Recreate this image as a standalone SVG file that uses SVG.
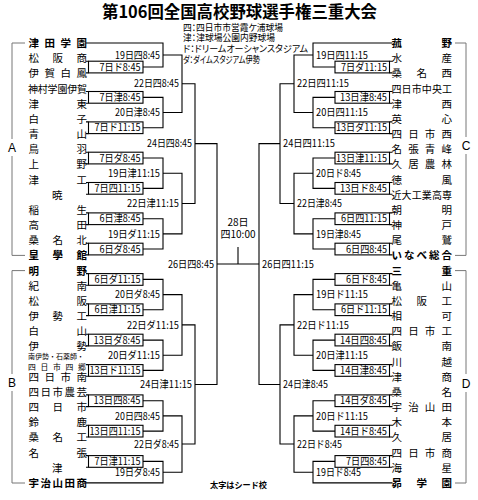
<svg xmlns="http://www.w3.org/2000/svg" width="478" height="500" viewBox="0 0 478 500">
<style>
text{font-family:"Noto Sans CJK JP","Liberation Sans",sans-serif;fill:#000}
.n{font-size:10.5px}
.n6{font-size:10px}
.sm{font-size:6.8px}
.sm2{font-size:7.8px}
.s{font-weight:bold}
.m{font-size:10.5px}
.bxl{font-size:10px}
.e{text-anchor:end}
.c{text-anchor:middle}
.ln{stroke:#000;stroke-width:1.1;fill:none}
.bx{stroke:#000;stroke-width:1.1;fill:#fff}
.gr{stroke:#777;stroke-width:1;fill:none}
.lg{font-size:9.6px;font-feature-settings:"palt"}
.blk{font-family:"Liberation Sans",sans-serif;font-size:12px}
</style>
<rect width="478" height="500" fill="#fff"/>
<g id="title">
<text class="c s" x="239.5" y="18" font-size="16.5" textLength="275" lengthAdjust="spacingAndGlyphs">第106回全国高校野球選手権三重大会</text>
</g>
<g id="legend">
<text class="lg" x="183" y="30.5" textLength="100" lengthAdjust="spacingAndGlyphs">四：四日市市営霞ケ浦球場</text>
<text class="lg" x="183" y="41.3" textLength="92" lengthAdjust="spacingAndGlyphs">津：津球場公園内野球場</text>
<text class="lg" x="183" y="52.3" textLength="125" lengthAdjust="spacingAndGlyphs">ド：ドリームオーシャンスタジアム</text>
<text class="lg" x="183" y="63.3" textLength="77" lengthAdjust="spacingAndGlyphs">ダ：ダイムスタジアム伊勢</text>
</g>
<g id="connectors">
<path class="gr" d="M25 43H12V139M12 156V255.4H25M25 270.6H12V374M12 391V483H25M455 43H466V137M466 154V255.4H455M455 270.6H466V374M466 392V483H455"/>
<path class="ln" d="M86 61.2H88.5M86 72.9H88.5M86 91.5H88.5M86 103.2H88.5M86 121.9H88.5M86 133.6H88.5M86 152.2H88.5M86 163.9H88.5M86 182.5H88.5M86 194.2H88.5M86 212.9H88.5M86 224.6H88.5M86 243.2H88.5M86 254.9H88.5M86 273.6H88.5M86 285.3H88.5M86 303.9H88.5M86 315.6H88.5M86 334.2H88.5M86 345.9H88.5M86 364.6H88.5M86 376.3H88.5M86 394.9H88.5M86 406.6H88.5M86 425.3H88.5M86 437H88.5M86 455.6H88.5M86 467.3H88.5
M86 43H163V67H143M143 97.4H163V127.7H143M143 158H163V188.4H143M143 218.7H163V249H143M143 279.4H163V309.7H143M143 340.1H163V370.4H143M143 400.8H163V431.1H143M143 461.4H163V482.9H86
M163 55H182V112.5H163M163 173.2H182V233.9H163M163 294.6H182V355.3H163M163 415.9H182V472.2H163
M182 83.8H195V203.5H182M182 324.9H195V444H182
M195 143.6H217V384.5H195
M217 264H259M238 247V264
M389.5 61.2H392.5M389.5 72.9H392.5M389.5 91.5H392.5M389.5 103.2H392.5M389.5 121.9H392.5M389.5 133.6H392.5M389.5 152.2H392.5M389.5 163.9H392.5M389.5 182.5H392.5M389.5 194.2H392.5M389.5 212.9H392.5M389.5 224.6H392.5M389.5 243.2H392.5M389.5 254.9H392.5M389.5 273.6H392.5M389.5 285.3H392.5M389.5 303.9H392.5M389.5 315.6H392.5M389.5 334.2H392.5M389.5 345.9H392.5M389.5 364.6H392.5M389.5 376.3H392.5M389.5 394.9H392.5M389.5 406.6H392.5M389.5 425.3H392.5M389.5 437H392.5M389.5 455.6H392.5M389.5 467.3H392.5
M392.5 43H313V67H335M335 97.4H313V127.7H335M335 158H313V188.4H335M335 218.7H313V249H335M335 279.4H313V309.7H335M335 340.1H313V370.4H335M335 400.8H313V431.1H335M335 461.4H313V482.9H392.5
M313 55H294V112.5H313M313 173.2H294V233.9H313M313 294.6H294V355.3H313M313 415.9H294V472.2H313
M294 83.8H280V203.5H294M294 324.9H280V444H294
M280 143.6H259V384.5H280"/>
</g>
<g id="blocks">
<text class="blk c" x="12" y="151.5">A</text>
<text class="blk c" x="12" y="386.5">B</text>
<text class="blk c" x="466" y="149.5">C</text>
<text class="blk c" x="466" y="387.5">D</text>
</g>
<g id="teams-left">
<g id="t-tsudagakuen"><text class="n s" x="28.5 44.5 60.5 76.5" y="47">津田学園</text></g>
<g id="t-matsusakasho"><text class="n" x="28.5 52.5 76.5" y="62.2">松阪商</text></g>
<g id="t-igahakuho"><text class="n" x="28.5 44.5 60.5 76.5" y="77.3">伊賀白鳳</text></g>
<g id="t-kamimura"><text class="n6" x="28 37.8 47.6 57.4 67.2 77" y="92.5">神村学園伊賀</text></g>
<g id="t-tsuhigashi"><text class="n" x="28.5 76.5" y="107.7">津東</text></g>
<g id="t-shiroko"><text class="n" x="28.5 76.5" y="122.9">白子</text></g>
<g id="t-aoyama"><text class="n" x="28.5 76.5" y="138">青山</text></g>
<g id="t-toba"><text class="n" x="28.5 76.5" y="153.2">鳥羽</text></g>
<g id="t-ueno"><text class="n" x="28.5 76.5" y="168.4">上野</text></g>
<g id="t-tsuko"><text class="n" x="28.5 76.5" y="183.5">津工</text></g>
<g id="t-akatsuki"><text class="n" x="52" y="198.7">暁</text></g>
<g id="t-inabe"><text class="n" x="28.5 76.5" y="213.9">稲生</text></g>
<g id="t-takada"><text class="n" x="28.5 76.5" y="229">高田</text></g>
<g id="t-kuwanakita"><text class="n" x="28.5 52.5 76.5" y="244.2">桑名北</text></g>
<g id="t-kogakkan"><text class="n s" x="28.5 52.5 76.5" y="259.4">皇學館</text></g>
<g id="t-meino"><text class="n s" x="28.5 76.5" y="274.6">明野</text></g>
<g id="t-kinan"><text class="n" x="28.5 76.5" y="289.7">紀南</text></g>
<g id="t-matsusaka"><text class="n" x="28.5 76.5" y="304.9">松阪</text></g>
<g id="t-iseko"><text class="n" x="28.5 52.5 76.5" y="320.1">伊勢工</text></g>
<g id="t-hakusan"><text class="n" x="28.5 76.5" y="335.2">白山</text></g>
<g id="t-ise"><text class="n" x="28.5 76.5" y="350.4">伊勢</text></g>
<g id="t-rengo"><text class="sm" x="28" y="359.4" textLength="56" lengthAdjust="spacingAndGlyphs">南伊勢・石薬師・</text><text class="sm2" x="28 40.5 53 65.5 78" y="369.6">四日市四郷</text></g>
<g id="t-yokkaichiminami"><text class="n" x="28.5 44.5 60.5 76.5" y="380.7">四日市南</text></g>
<g id="t-yokkaichinogei"><text class="n" x="28.5 40.5 52.5 64.5 76.5" y="395.9">四日市農芸</text></g>
<g id="t-yokkaichi"><text class="n" x="28.5 52.5 76.5" y="411.1">四日市</text></g>
<g id="t-suzuka"><text class="n" x="28.5 76.5" y="426.3">鈴鹿</text></g>
<g id="t-kuwanako"><text class="n" x="28.5 52.5 76.5" y="441.4">桑名工</text></g>
<g id="t-nabari"><text class="n" x="28.5 76.5" y="456.6">名張</text></g>
<g id="t-tsu"><text class="n" x="52" y="471.8">津</text></g>
<g id="t-ujiyamadasho"><text class="n s" x="28.5 40.5 52.5 64.5 76.5" y="486.9">宇治山田商</text></g>
</g>
<g id="teams-right">
<g id="t-komono"><text class="n s" x="391.5 441.5" y="47">菰野</text></g>
<g id="t-suisan"><text class="n" x="391.5 441.5" y="62.2">水産</text></g>
<g id="t-kuwananishi"><text class="n" x="391.5 416.5 441.5" y="77.3">桑名西</text></g>
<g id="t-yokkaichichuoko"><text class="n6" x="391.5 401.6 411.7 421.8 431.9 442" y="92.5">四日市中央工</text></g>
<g id="t-tsunishi"><text class="n" x="391.5 441.5" y="107.7">津西</text></g>
<g id="t-eishin"><text class="n" x="391.5 441.5" y="122.9">英心</text></g>
<g id="t-yokkaichinishi"><text class="n" x="391.5 408.2 424.8 441.5" y="138">四日市西</text></g>
<g id="t-nabariseiho"><text class="n" x="391.5 408.2 424.8 441.5" y="153.2">名張青峰</text></g>
<g id="t-hisainorin"><text class="n" x="391.5 408.2 424.8 441.5" y="168.4">久居農林</text></g>
<g id="t-tokufu"><text class="n" x="391.5 441.5" y="183.5">徳風</text></g>
<g id="t-kindai"><text class="n6" x="391.5 401.6 411.7 421.8 431.9 442" y="198.7">近大工業高専</text></g>
<g id="t-asake"><text class="n" x="391.5 441.5" y="213.9">朝明</text></g>
<g id="t-kanbe"><text class="n" x="391.5 441.5" y="229">神戸</text></g>
<g id="t-owase"><text class="n" x="391.5 441.5" y="244.2">尾鷲</text></g>
<g id="t-inabesogo"><text class="n s" x="391.5 404 416.5 429 441.5" y="259.4">いなべ総合</text></g>
<g id="t-mie"><text class="n s" x="391.5 441.5" y="274.6">三重</text></g>
<g id="t-kameyama"><text class="n" x="391.5 441.5" y="289.7">亀山</text></g>
<g id="t-matsusakako"><text class="n" x="391.5 416.5 441.5" y="304.9">松阪工</text></g>
<g id="t-ouka"><text class="n" x="391.5 441.5" y="320.1">相可</text></g>
<g id="t-yokkaichiko"><text class="n" x="391.5 408.2 424.8 441.5" y="335.2">四日市工</text></g>
<g id="t-iinan"><text class="n" x="391.5 441.5" y="350.4">飯南</text></g>
<g id="t-kawagoe"><text class="n" x="391.5 441.5" y="365.6">川越</text></g>
<g id="t-tsusho"><text class="n" x="391.5 441.5" y="380.7">津商</text></g>
<g id="t-kuwana"><text class="n" x="391.5 441.5" y="395.9">桑名</text></g>
<g id="t-ujiyamada"><text class="n" x="391.5 408.2 424.8 441.5" y="411.1">宇治山田</text></g>
<g id="t-kimoto"><text class="n" x="391.5 441.5" y="426.3">木本</text></g>
<g id="t-hisai"><text class="n" x="391.5 441.5" y="441.4">久居</text></g>
<g id="t-yokkaichisho"><text class="n" x="391.5 408.2 424.8 441.5" y="456.6">四日市商</text></g>
<g id="t-kaisei"><text class="n" x="391.5 441.5" y="471.8">海星</text></g>
<g id="t-subaru"><text class="n s" x="391.5 416.5 441.5" y="486.9">昴学園</text></g>
</g>
<g id="matches-r1-left">
<g id="m-l1"><rect class="bx" x="88.5" y="61.2" width="54.5" height="11.7"/><text class="bxl e" x="140.5" y="70.6" textLength="41" lengthAdjust="spacingAndGlyphs">7日ド8:45</text></g>
<g id="m-l3"><rect class="bx" x="88.5" y="91.5" width="54.5" height="11.7"/><text class="bxl e" x="140.5" y="101" textLength="41" lengthAdjust="spacingAndGlyphs">7日津8:45</text></g>
<g id="m-l5"><rect class="bx" x="88.5" y="121.9" width="54.5" height="11.7"/><text class="bxl e" x="140.5" y="131.3" textLength="46" lengthAdjust="spacingAndGlyphs">7日ド11:15</text></g>
<g id="m-l7"><rect class="bx" x="88.5" y="152.2" width="54.5" height="11.7"/><text class="bxl e" x="140.5" y="161.6" textLength="41" lengthAdjust="spacingAndGlyphs">7日ダ8:45</text></g>
<g id="m-l9"><rect class="bx" x="88.5" y="182.5" width="54.5" height="11.7"/><text class="bxl e" x="140.5" y="192" textLength="46" lengthAdjust="spacingAndGlyphs">7日四11:15</text></g>
<g id="m-l11"><rect class="bx" x="88.5" y="212.9" width="54.5" height="11.7"/><text class="bxl e" x="140.5" y="222.3" textLength="41" lengthAdjust="spacingAndGlyphs">6日津8:45</text></g>
<g id="m-l13"><rect class="bx" x="88.5" y="243.2" width="54.5" height="11.7"/><text class="bxl e" x="140.5" y="252.7" textLength="41" lengthAdjust="spacingAndGlyphs">6日ダ8:45</text></g>
<g id="m-l15"><rect class="bx" x="88.5" y="273.6" width="54.5" height="11.7"/><text class="bxl e" x="140.5" y="283" textLength="46" lengthAdjust="spacingAndGlyphs">6日ダ11:15</text></g>
<g id="m-l17"><rect class="bx" x="88.5" y="303.9" width="54.5" height="11.7"/><text class="bxl e" x="140.5" y="313.3" textLength="46" lengthAdjust="spacingAndGlyphs">6日津11:15</text></g>
<g id="m-l19"><rect class="bx" x="88.5" y="334.2" width="54.5" height="11.7"/><text class="bxl e" x="140.5" y="343.7" textLength="47" lengthAdjust="spacingAndGlyphs">13日ダ8:45</text></g>
<g id="m-l21"><rect class="bx" x="88.5" y="364.6" width="54.5" height="11.7"/><text class="bxl e" x="140.5" y="374" textLength="51" lengthAdjust="spacingAndGlyphs">13日ド11:15</text></g>
<g id="m-l23"><rect class="bx" x="88.5" y="394.9" width="54.5" height="11.7"/><text class="bxl e" x="140.5" y="404.4" textLength="47" lengthAdjust="spacingAndGlyphs">13日四8:45</text></g>
<g id="m-l25"><rect class="bx" x="88.5" y="425.3" width="54.5" height="11.7"/><text class="bxl e" x="140.5" y="434.7" textLength="51" lengthAdjust="spacingAndGlyphs">13日四11:15</text></g>
<g id="m-l27"><rect class="bx" x="88.5" y="455.6" width="54.5" height="11.7"/><text class="bxl e" x="140.5" y="465" textLength="46" lengthAdjust="spacingAndGlyphs">7日津11:15</text></g>
</g>
<g id="matches-r1-right">
<g id="m-r1"><rect class="bx" x="335" y="61.2" width="54.5" height="11.7"/><text class="bxl e" x="387" y="70.6" textLength="46" lengthAdjust="spacingAndGlyphs">7日ダ11:15</text></g>
<g id="m-r3"><rect class="bx" x="335" y="91.5" width="54.5" height="11.7"/><text class="bxl e" x="387" y="101" textLength="47" lengthAdjust="spacingAndGlyphs">13日津8:45</text></g>
<g id="m-r5"><rect class="bx" x="335" y="121.9" width="54.5" height="11.7"/><text class="bxl e" x="387" y="131.3" textLength="51" lengthAdjust="spacingAndGlyphs">13日ダ11:15</text></g>
<g id="m-r7"><rect class="bx" x="335" y="152.2" width="54.5" height="11.7"/><text class="bxl e" x="387" y="161.6" textLength="51" lengthAdjust="spacingAndGlyphs">13日津11:15</text></g>
<g id="m-r9"><rect class="bx" x="335" y="182.5" width="54.5" height="11.7"/><text class="bxl e" x="387" y="192" textLength="47" lengthAdjust="spacingAndGlyphs">13日ド8:45</text></g>
<g id="m-r11"><rect class="bx" x="335" y="212.9" width="54.5" height="11.7"/><text class="bxl e" x="387" y="222.3" textLength="46" lengthAdjust="spacingAndGlyphs">6日四11:15</text></g>
<g id="m-r13"><rect class="bx" x="335" y="243.2" width="54.5" height="11.7"/><text class="bxl e" x="387" y="252.7" textLength="41" lengthAdjust="spacingAndGlyphs">6日四8:45</text></g>
<g id="m-r15"><rect class="bx" x="335" y="273.6" width="54.5" height="11.7"/><text class="bxl e" x="387" y="283" textLength="41" lengthAdjust="spacingAndGlyphs">6日ド8:45</text></g>
<g id="m-r17"><rect class="bx" x="335" y="303.9" width="54.5" height="11.7"/><text class="bxl e" x="387" y="313.3" textLength="46" lengthAdjust="spacingAndGlyphs">6日ド11:15</text></g>
<g id="m-r19"><rect class="bx" x="335" y="334.2" width="54.5" height="11.7"/><text class="bxl e" x="387" y="343.7" textLength="47" lengthAdjust="spacingAndGlyphs">14日四8:45</text></g>
<g id="m-r21"><rect class="bx" x="335" y="364.6" width="54.5" height="11.7"/><text class="bxl e" x="387" y="374" textLength="47" lengthAdjust="spacingAndGlyphs">14日津8:45</text></g>
<g id="m-r23"><rect class="bx" x="335" y="394.9" width="54.5" height="11.7"/><text class="bxl e" x="387" y="404.4" textLength="47" lengthAdjust="spacingAndGlyphs">14日ダ8:45</text></g>
<g id="m-r25"><rect class="bx" x="335" y="425.3" width="54.5" height="11.7"/><text class="bxl e" x="387" y="434.7" textLength="47" lengthAdjust="spacingAndGlyphs">14日ド8:45</text></g>
<g id="m-r27"><rect class="bx" x="335" y="455.6" width="54.5" height="11.7"/><text class="bxl e" x="387" y="465" textLength="41" lengthAdjust="spacingAndGlyphs">7日四8:45</text></g>
</g>
<g id="matches-left">
<g id="m-l-19a"><text class="m e" x="160" y="58.6" textLength="45" lengthAdjust="spacingAndGlyphs">19日四8:45</text></g>
<g id="m-l-20a"><text class="m e" x="160" y="116.1" textLength="45" lengthAdjust="spacingAndGlyphs">20日津8:45</text></g>
<g id="m-l-19b"><text class="m e" x="160" y="176.8" textLength="52" lengthAdjust="spacingAndGlyphs">19日津11:15</text></g>
<g id="m-l-19c"><text class="m e" x="160" y="237.5" textLength="52" lengthAdjust="spacingAndGlyphs">19日ダ11:15</text></g>
<g id="m-l-20b"><text class="m e" x="160" y="298.2" textLength="45" lengthAdjust="spacingAndGlyphs">20日ダ8:45</text></g>
<g id="m-l-20c"><text class="m e" x="160" y="358.9" textLength="52" lengthAdjust="spacingAndGlyphs">20日ダ11:15</text></g>
<g id="m-l-20d"><text class="m e" x="160" y="419.5" textLength="45" lengthAdjust="spacingAndGlyphs">20日四8:45</text></g>
<g id="m-l-19d"><text class="m e" x="160" y="475.8" textLength="45" lengthAdjust="spacingAndGlyphs">19日ダ8:45</text></g>
<g id="m-l-22a"><text class="m e" x="179" y="87.4" textLength="45" lengthAdjust="spacingAndGlyphs">22日四8:45</text></g>
<g id="m-l-22b"><text class="m e" x="179" y="207.1" textLength="52" lengthAdjust="spacingAndGlyphs">22日津11:15</text></g>
<g id="m-l-22c"><text class="m e" x="179" y="328.5" textLength="52" lengthAdjust="spacingAndGlyphs">22日ダ11:15</text></g>
<g id="m-l-22d"><text class="m e" x="179" y="447.6" textLength="45" lengthAdjust="spacingAndGlyphs">22日ダ8:45</text></g>
<g id="m-l-24a"><text class="m e" x="192" y="147.2" textLength="45" lengthAdjust="spacingAndGlyphs">24日四8:45</text></g>
<g id="m-l-24b"><text class="m e" x="192" y="388.1" textLength="52" lengthAdjust="spacingAndGlyphs">24日津11:15</text></g>
<g id="m-l-26"><text class="m e" x="214" y="267.6" textLength="46" lengthAdjust="spacingAndGlyphs">26日四8:45</text></g>
</g>
<g id="matches-right">
<g id="m-r-19a"><text class="m" x="316" y="58.6" textLength="52" lengthAdjust="spacingAndGlyphs">19日四11:15</text></g>
<g id="m-r-20a"><text class="m" x="316" y="116.1" textLength="52" lengthAdjust="spacingAndGlyphs">20日四11:15</text></g>
<g id="m-r-20b"><text class="m" x="316" y="176.8" textLength="45" lengthAdjust="spacingAndGlyphs">20日ド8:45</text></g>
<g id="m-r-19b"><text class="m" x="316" y="237.5" textLength="45" lengthAdjust="spacingAndGlyphs">19日津8:45</text></g>
<g id="m-r-19c"><text class="m" x="316" y="298.2" textLength="52" lengthAdjust="spacingAndGlyphs">19日ド11:15</text></g>
<g id="m-r-20c"><text class="m" x="316" y="358.9" textLength="52" lengthAdjust="spacingAndGlyphs">20日津11:15</text></g>
<g id="m-r-20d"><text class="m" x="316" y="419.5" textLength="52" lengthAdjust="spacingAndGlyphs">20日ド11:15</text></g>
<g id="m-r-19d"><text class="m" x="316" y="475.8" textLength="45" lengthAdjust="spacingAndGlyphs">19日ド8:45</text></g>
<g id="m-r-22a"><text class="m" x="297" y="87.4" textLength="52" lengthAdjust="spacingAndGlyphs">22日四11:15</text></g>
<g id="m-r-22b"><text class="m" x="297" y="207.1" textLength="45" lengthAdjust="spacingAndGlyphs">22日津8:45</text></g>
<g id="m-r-22c"><text class="m" x="297" y="328.5" textLength="52" lengthAdjust="spacingAndGlyphs">22日ド11:15</text></g>
<g id="m-r-22d"><text class="m" x="297" y="447.6" textLength="45" lengthAdjust="spacingAndGlyphs">22日ド8:45</text></g>
<g id="m-r-24a"><text class="m" x="283" y="147.2" textLength="52" lengthAdjust="spacingAndGlyphs">24日四11:15</text></g>
<g id="m-r-24b"><text class="m" x="283" y="388.1" textLength="45" lengthAdjust="spacingAndGlyphs">24日津8:45</text></g>
<g id="m-r-26"><text class="m" x="262" y="267.6" textLength="52" lengthAdjust="spacingAndGlyphs">26日四11:15</text></g>
</g>
<g id="final">
<text class="c" font-size="10" x="238" y="225.5">28日</text>
<text class="c" font-size="10" x="238" y="238">四10:00</text>
</g>
<g id="note">
<text class="c s" x="238.5" y="488" font-size="8.5" textLength="57" lengthAdjust="spacingAndGlyphs">太字はシード校</text>
</g>
</svg>
